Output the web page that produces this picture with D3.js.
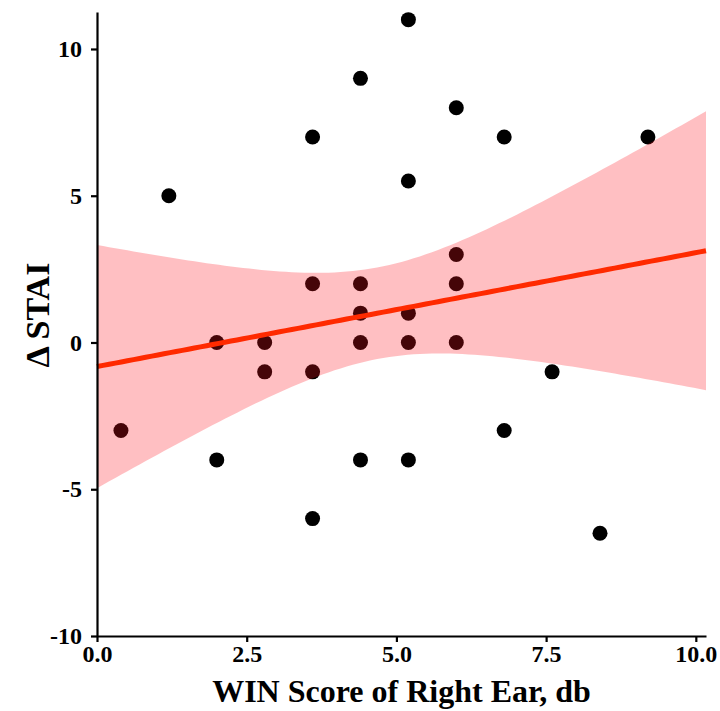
<!DOCTYPE html>
<html>
<head>
<meta charset="utf-8">
<script src="https://cdn.jsdelivr.net/npm/d3@7"></script>
<style>
  html, body { margin: 0; padding: 0; background: #fff; }
  svg { display: block; }
</style>
</head>
<body>
<svg id="chart" width="720" height="711"></svg>
<script>
// ---- data ----
const winScore = [0.4, 1.2, 2.0, 2.0, 2.8, 2.8, 3.6, 3.6, 3.6, 3.6, 4.4, 4.4, 4.4, 4.4, 4.4,
                  5.2, 5.2, 5.2, 5.2, 5.2, 6.0, 6.0, 6.0, 6.0, 6.8, 6.8, 7.6, 8.4, 9.2];
const deltaStai = [-3, 5, 0, -4, 0, -1, 7, 2, -1, -6, 9, 2, 1, 0, -4,
                   11, 5.5, 1, 0, -4, 8, 3, 2, 0, 7, -3, -1, -6.5, 7];
// fitted regression line as drawn in the reference: [intercept, slope]
const fitCoef = [-0.82, 0.388];
// 95% confidence band: [centre x, min half-width, spread coefficient]
const bandParams = [4.69, 1.56, 0.67];
const xDomain = [0, 10.17];
const yDomain = [-10, 11.26];
const xTicks = [0, 2.5, 5, 7.5, 10];
const xTickLabels = ["0.0", "2.5", "5.0", "7.5", "10.0"];
const yTicks = [-10, -5, 0, 5, 10];
const yTickLabels = ["-10", "-5", "0", "5", "10"];
const xTitle = "WIN Score of Right Ear, db";
const yTitle = "\u0394 STAI";

// ---- layout ----
const mLeft = 97, mRight = 706, mTop = 12, mBottom = 636;
const svg = d3.select("#chart");
const x = d3.scaleLinear().domain(xDomain).range([mLeft, mRight]);
const y = d3.scaleLinear().domain(yDomain).range([mBottom, mTop]);

const pts = winScore.map((v, i) => ({x: v, y: deltaStai[i]}));

const xs = d3.range(0, 101).map(i => xDomain[0] + (xDomain[1] - xDomain[0]) * i / 100);
const band = xs.map(xv => {
  const fit = fitCoef[0] + fitCoef[1] * xv;
  const hw = Math.sqrt(bandParams[1] ** 2 + bandParams[2] * (xv - bandParams[0]) ** 2);
  return {x: xv, fit, lo: fit - hw, hi: fit + hw};
});

svg.append("clipPath").attr("id", "clip")
  .append("rect").attr("x", mLeft).attr("y", mTop).attr("width", mRight - mLeft).attr("height", mBottom - mTop);

// points
svg.append("g").selectAll("circle").data(pts).join("circle")
  .attr("cx", d => x(d.x)).attr("cy", d => y(d.y)).attr("r", 7.5).attr("fill", "#000");

// band
svg.append("path").datum(band)
  .attr("clip-path", "url(#clip)")
  .attr("fill", "rgb(255,20,30)").attr("fill-opacity", 0.27)
  .attr("d", d3.area().x(d => x(d.x)).y0(d => y(d.lo)).y1(d => y(d.hi)));

// fit line
svg.append("path").datum(band)
  .attr("fill", "none").attr("stroke", "#ff2a00").attr("stroke-width", 5)
  .attr("d", d3.line().x(d => x(d.x)).y(d => y(d.fit)));

// axes
const font = "'Liberation Serif', 'Times New Roman', serif";
const xAxis = svg.append("g").attr("transform", `translate(0,${mBottom})`)
  .call(d3.axisBottom(x).tickValues(xTicks).tickFormat((d, i) => xTickLabels[i]).tickSize(6).tickPadding(3).tickSizeOuter(0));
const yAxis = svg.append("g").attr("transform", `translate(${mLeft},0)`)
  .call(d3.axisLeft(y).tickValues(yTicks).tickFormat((d, i) => yTickLabels[i]).tickSize(6).tickPadding(9).tickSizeOuter(0));
[xAxis, yAxis].forEach(g => {
  g.select(".domain").attr("stroke", "#000").attr("stroke-width", 2.2);
  g.selectAll(".tick line").attr("stroke", "#000").attr("stroke-width", 2.2);
  g.selectAll(".tick text").attr("fill", "#000").style("font-family", font)
    .style("font-size", "24px").style("font-weight", "bold");
});

svg.append("text").attr("x", (mLeft + mRight) / 2).attr("y", 702)
  .attr("text-anchor", "middle").style("font-family", font)
  .style("font-size", "32px").style("font-weight", "bold").text(xTitle);
svg.append("text").attr("transform", `translate(49,315) rotate(-90)`)
  .attr("text-anchor", "middle").style("font-family", font)
  .style("font-size", "34px").style("font-weight", "bold").text(yTitle);
</script>
</body>
</html>
